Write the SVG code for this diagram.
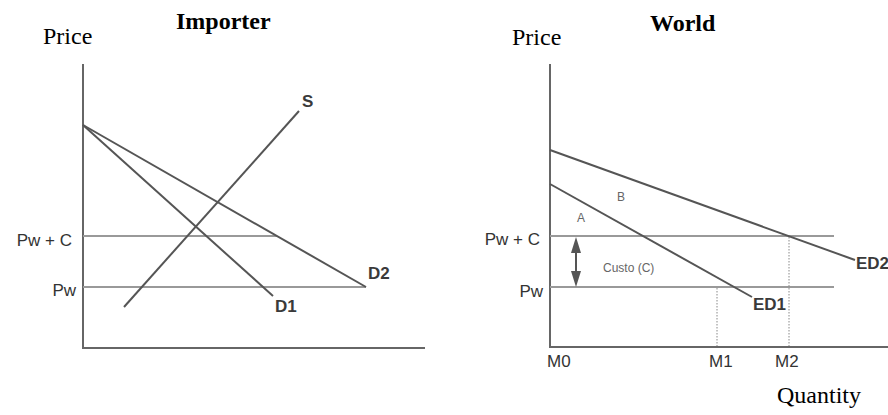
<svg xmlns="http://www.w3.org/2000/svg" width="888" height="415" viewBox="0 0 888 415">
<style>
.ttl{font-family:"Liberation Serif",serif;font-size:24px;font-weight:bold;fill:#000}
.ser{font-family:"Liberation Serif",serif;font-size:24px;fill:#000}
.lab{font-family:"Liberation Sans",Arial,sans-serif;font-size:17px;fill:#333}
.crv{font-family:"Liberation Sans",Arial,sans-serif;font-size:17px;font-weight:bold;fill:#3a3a3a}
.sm{font-family:"Liberation Sans",Arial,sans-serif;font-size:12px;fill:#666}
.axis{stroke:#666;stroke-width:2;fill:none}
.curve{stroke:#555;stroke-width:2;fill:none}
.hl{stroke:#999;stroke-width:2;fill:none}
.dot{stroke:#888;stroke-width:1;stroke-dasharray:1.5,1.5;fill:none}
</style>
<rect width="888" height="415" fill="#fff"/>
<g id="titles">
<text class="ttl" x="176" y="29">Importer</text>
<text class="ser" x="43" y="44">Price</text>
<text class="ttl" x="650" y="31">World</text>
<text class="ser" x="512" y="45">Price</text>
<text class="ser" x="777" y="403">Quantity</text>
</g>
<g id="importer-axes">
<path class="axis" d="M83,64 V348 H425"/>
</g>
<g id="importer-lines">
<line class="hl" x1="83" y1="236" x2="277" y2="236"/>
<line class="hl" x1="83" y1="287" x2="366" y2="287"/>
<line class="curve" x1="124" y1="307" x2="299" y2="111"/>
<line class="curve" x1="83" y1="125" x2="273" y2="296"/>
<line class="curve" x1="83" y1="125" x2="366" y2="287"/>
</g>
<g id="importer-labels">
<text class="lab" x="72" y="246" text-anchor="end">Pw + C</text>
<text class="lab" x="76" y="296" text-anchor="end">Pw</text>
<text class="crv" x="302" y="107">S</text>
<text class="crv" x="275" y="312">D1</text>
<text class="crv" x="368" y="279">D2</text>
</g>
<g id="world-axes">
<path class="axis" d="M550,64 V347 H888"/>
</g>
<g id="world-lines">
<line class="hl" x1="550" y1="236" x2="834" y2="236"/>
<line class="hl" x1="550" y1="287" x2="834" y2="287"/>
<line class="dot" x1="717" y1="288" x2="717" y2="346"/>
<line class="dot" x1="789" y1="237" x2="789" y2="346"/>
<line class="curve" x1="550" y1="150" x2="855" y2="260"/>
<line class="curve" x1="550" y1="184" x2="752" y2="297"/>
<line class="curve" x1="576" y1="250" x2="576" y2="273"/>
<polygon points="576,237 571,253 581,253" fill="#555"/>
<polygon points="576,287 571,271 581,271" fill="#555"/>
</g>
<g id="world-labels">
<text class="lab" x="540" y="245" text-anchor="end">Pw + C</text>
<text class="lab" x="543" y="297" text-anchor="end">Pw</text>
<text class="crv" x="753" y="310">ED1</text>
<text class="crv" x="856" y="269">ED2</text>
<text class="sm" x="577" y="222">A</text>
<text class="sm" x="617" y="201">B</text>
<text class="sm" x="603" y="272">Custo (C)</text>
<text class="lab" x="547" y="367">M0</text>
<text class="lab" x="709" y="367">M1</text>
<text class="lab" x="775" y="367">M2</text>
</g>
</svg>
